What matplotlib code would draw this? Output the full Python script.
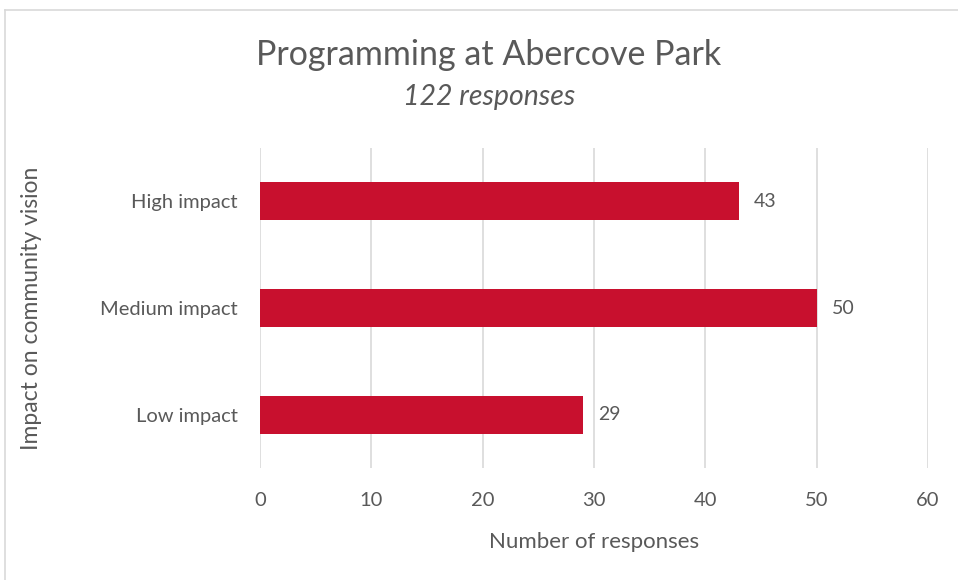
import matplotlib
matplotlib.use("Agg")
import matplotlib.pyplot as plt
from matplotlib.lines import Line2D

categories = ["Low impact", "Medium impact", "High impact"]
values = [29, 50, 43]
x_ticks = [0, 10, 20, 30, 40, 50, 60]

TXT = "#595959"
BAR = "#C8102E"
GRID = "#D9D9D9"
plt.rcParams['font.family'] = ['Lato', 'DejaVu Sans']

fig = plt.figure(figsize=(9.58, 5.8), dpi=100)
ax = fig.add_axes([260/958, 1-468/580, (928-260)/958, (468-148)/580])

y = list(range(len(categories)))
ax.barh(y, values, height=0.355, color=BAR, zorder=3)
for yi, v in zip(y, values):
    ax.annotate(str(v), (v, yi), xytext=(11, 0), textcoords="offset points",
                va="center", ha="left", fontsize=14, color=TXT)

ax.set_xlim(0, 60)
ax.set_ylim(-0.5, 2.5)
ax.set_xticks(x_ticks)
ax.set_xticklabels([str(t) for t in x_ticks])
ax.set_yticks(y)
ax.set_yticklabels(categories)
ax.grid(axis="x", color=GRID, linewidth=1.2, zorder=0)
for s in ax.spines.values():
    s.set_visible(False)
ax.tick_params(axis="both", length=0, labelsize=14.5, labelcolor=TXT)
ax.tick_params(axis="x", pad=17)
ax.tick_params(axis="y", pad=16)
ax.set_xlabel("Number of responses", fontsize=16, color=TXT, labelpad=17)
ax.set_ylabel("Impact on community vision", fontsize=16.5, color=TXT)
ax.yaxis.set_label_coords(-218/668, 0.5)

fig.text(489/958, 1-55/580, "Programming at Abercove Park", ha="center", va="center",
         fontsize=24.5, color=TXT)
fig.text(489/958, 1-97/580, "122 responses", ha="center", va="center",
         fontsize=20.5, color=TXT, style="italic")

fig.lines.append(Line2D([5/958, 5/958], [0, 1-10/580], transform=fig.transFigure,
                        color=GRID, linewidth=1.2))
fig.lines.append(Line2D([5/958, 1], [1-10/580, 1-10/580], transform=fig.transFigure,
                        color=GRID, linewidth=1.2))

fig.savefig("out.png", dpi=100)
